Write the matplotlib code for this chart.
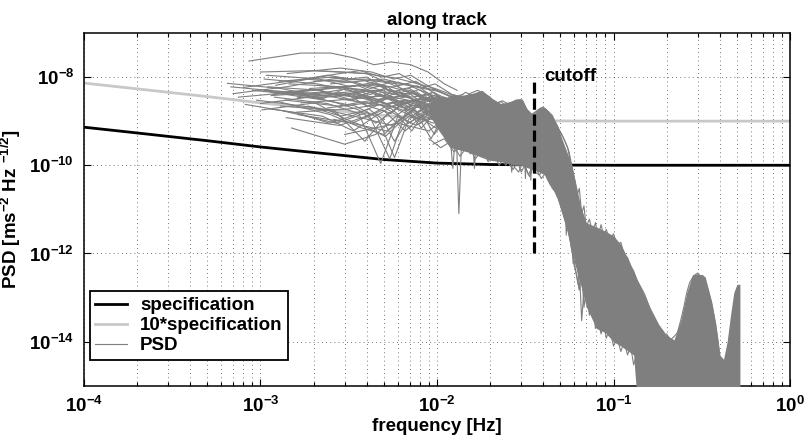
import matplotlib
matplotlib.use("Agg")
import matplotlib.pyplot as plt

plt.rcParams['font.family'] = ['Liberation Sans', 'DejaVu Sans']
plt.rcParams['font.weight'] = 'bold'
plt.rcParams['mathtext.fontset'] = 'custom'
plt.rcParams['mathtext.rm'] = 'Liberation Sans:bold'
plt.rcParams['mathtext.bf'] = 'Liberation Sans:bold'
plt.rcParams['mathtext.it'] = 'Liberation Sans:bold'

# specification curve
spec_f = [1e-4, 2e-4, 5e-4, 1e-3, 2e-3, 5e-3, 1e-2, 2e-2, 5e-2, 1e-1, 1.0]
spec_v = [7.3e-10, 5.4e-10, 3.6e-10, 2.6e-10, 1.95e-10, 1.35e-10, 1.12e-10,
          1.04e-10, 1.01e-10, 1.0e-10, 1.0e-10]
ten_spec_v = [10 * v for v in spec_v]

# single PSD curves, frequency in mHz, value in 1e-9 ms^-2 Hz^-1/2
psd_f_mhz = [
    [0.86, 1.7, 2.5, 3.4, 4.4, 5.5, 7.1, 8.9, 11, 13],
    [0.65, 1.3, 1.95, 2.6, 3.25, 3.9, 5.2, 6.5, 8.5, 11],
    [1.0, 2.0, 3.0, 4.0, 5.0, 6.0, 7.5, 9, 11, 13],
    [1.05, 2.1, 3.15, 4.2, 5.25, 6.3, 8.4, 10.5, 12.6],
    [1.1, 2.2, 3.3, 4.4, 5.5, 6.6, 7.7, 8.8, 11, 13],
    [1.15, 2.3, 3.45, 4.6, 5.75, 6.9, 8.05, 9.2, 11.5],
    [1.2, 2.4, 3.6, 4.8, 6.0, 7.2, 8.4, 9.6, 12],
    [1.25, 2.5, 3.75, 5.0, 6.25, 7.5, 8.75, 10, 12.5],
    [1.3, 2.6, 3.9, 5.2, 6.5, 7.8, 9.1, 10.4, 13],
    [1.35, 2.7, 4.05, 5.4, 6.75, 8.1, 9.45, 10.8, 13.5],
    [1.4, 2.8, 4.2, 5.6, 7.0, 8.4, 9.8, 11.2, 14],
    [1.5, 3.0, 4.5, 6.0, 7.5, 9, 10.5, 12, 13.5],
    [1.6, 3.2, 4.8, 6.4, 8, 9.6, 11.2, 12.8],
    [1.7, 3.4, 5.1, 6.8, 8.5, 10.2, 11.9, 13.6],
    [1.8, 3.6, 5.4, 7.2, 9, 10.8, 12.6],
    [1.9, 3.8, 5.7, 7.6, 9.5, 11.4, 13.3],
    [2.0, 4.0, 6.0, 8.0, 10, 12, 14],
    [2.2, 4.4, 6.6, 8.8, 11, 13.2],
    [2.4, 4.8, 7.2, 9.6, 12, 14.4],
    [2.6, 5.2, 7.8, 10.4, 13],
    [0.9, 1.8, 2.7, 3.6, 4.5, 5.4, 6.3, 7.2, 9, 11],
    [0.95, 1.9, 2.85, 3.8, 4.75, 5.7, 7.6, 9.5, 11.4],
    [1.12, 2.24, 3.36, 4.48, 5.6, 6.72, 8.96, 11.2],
    [1.45, 2.9, 4.35, 5.8, 7.25, 8.7, 10.15, 11.6],
    [0.7, 1.4, 2.1, 2.8, 3.5, 4.2, 4.9, 5.6, 7, 8.4, 9.8, 11.2, 12.6, 14],
    [0.75, 1.5, 2.25, 3.0, 3.75, 4.5, 5.25, 6.0, 7.5, 9, 10.5, 12, 13.5, 15],
    [0.8, 1.6, 2.4, 3.2, 4.0, 4.8, 5.6, 6.4, 8, 9.6, 11.2, 12.8, 14.4],
    [1.0, 2.0, 3.0, 4.0, 5.0, 6.0, 7.0, 8.0, 9.0, 10, 12, 14, 16],
    [1.08, 2.16, 3.24, 4.32, 5.4, 6.48, 7.56, 8.64, 9.72, 10.8, 13, 15],
    [1.18, 2.36, 3.54, 4.72, 5.9, 7.08, 8.26, 9.44, 10.6, 11.8, 14.2],
    [1.28, 2.56, 3.84, 5.12, 6.4, 7.68, 8.96, 10.24, 11.5, 12.8, 15.4],
    [1.38, 2.76, 4.14, 5.52, 6.9, 8.28, 9.66, 11, 12.4, 13.8],
    [1.55, 3.1, 4.65, 6.2, 7.75, 9.3, 10.85, 12.4, 14],
    [1.65, 3.3, 4.95, 6.6, 8.25, 9.9, 11.55, 13.2, 14.85],
    [1.75, 3.5, 5.25, 7.0, 8.75, 10.5, 12.25, 14],
    [1.85, 3.7, 5.55, 7.4, 9.25, 11.1, 12.95, 14.8],
    [2.1, 4.2, 6.3, 8.4, 10.5, 12.6, 14.7],
    [2.3, 4.6, 6.9, 9.2, 11.5, 13.8],
    [2.8, 5.6, 8.4, 11.2, 14],
    [3.0, 6.0, 9.0, 12, 15],
    [1.02, 2.04, 3.06, 4.08, 5.1, 6.12, 7.14, 8.16, 9.18, 10.2, 12.2, 14.3],
    [0.82, 1.64, 2.46, 3.28, 4.1, 4.92, 5.74, 6.56, 8.2, 9.84, 11.5, 13.1],
    [1.05, 2.1, 3.15, 4.2, 5.25, 6.3, 7.35, 8.4, 10.5, 12.6],
    [1.15, 2.3, 3.45, 4.6, 5.75, 6.9, 8.05, 9.2, 11.5, 13.8],
    [1.22, 2.44, 3.66, 4.88, 6.1, 7.32, 8.54, 9.76, 12.2],
    [1.32, 2.64, 3.96, 5.28, 6.6, 7.92, 9.24, 10.56, 13.2],
    [1.42, 2.84, 4.26, 5.68, 7.1, 8.52, 9.94, 11.36, 14.2],
    [1.62, 3.24, 4.86, 6.48, 8.1, 9.72, 11.34, 12.96],
    [1.95, 3.9, 5.85, 7.8, 9.75, 11.7, 13.65],
    [1.08, 2.16, 3.24, 4.32, 5.4, 6.48, 7.56, 8.64, 10.8, 13],
    [0.68, 1.36, 2.04, 2.72, 3.4, 4.08, 4.76, 5.44, 6.8, 8.16, 9.52, 11],
    [2.5, 5.0, 7.5, 10, 12.5, 15],
    # upper and lower edges of the bundle up to the cutoff
    [8, 9.5, 11, 12.5, 14, 15.5, 17, 18.5, 20, 21.5, 23, 24.5, 26, 27.5, 29, 30.5, 32,
     33.5, 35, 37, 39, 41, 43, 45, 47, 49, 51, 53, 55, 57, 59, 61, 63],
    [8.5, 10, 11.5, 13, 14.5, 16, 17.5, 19, 20.5, 22, 23.5, 25, 26.5, 28, 29.5, 31,
     32.5, 34, 36, 38, 40, 42, 44, 46, 48, 50, 52, 54, 56, 58, 60, 62],
    [9, 10.5, 12, 13.5, 15, 16.5, 18, 19.5, 21, 22.5, 24, 25.5, 27, 28.5, 30, 31.5, 33,
     34.5, 36, 38, 40, 42, 44, 46, 48, 50, 52, 54, 56, 58, 60, 62, 64],
    [9.5, 11, 12.5, 14, 15.5, 17, 18.5, 20, 21.5, 23, 24.5, 26, 27.5, 29, 30.5, 32,
     33.5, 35, 37, 39, 41, 43, 45, 47, 49, 51, 53, 55, 57, 59, 61, 63],
]
psd_v_e9 = [
    [23, 35, 35, 27, 19, 22, 19, 13, 7, 5],
    [7.2, 5.5, 4, 3.5, 3, 4, 2.5, 3, 2, 1.8],
    [13, 14, 13, 12, 8, 6, 4, 3, 3.5, 2.5],
    [9, 7, 5, 3.5, 4, 2, 2.5, 1.5, 2],
    [6, 5, 3, 2, 1.5, 3, 1.6, 2.2, 1.8, 1.4],
    [4.5, 3, 2.2, 1.2, 0.15, 1.1, 1.8, 1.2, 1.6],
    [3.5, 2.5, 1.5, 0.11, 1.3, 0.6, 1.5, 2, 1.2],
    [2.8, 1.4, 0.7, 0.5, 1.1, 1.8, 1.0, 1.4, 1.5],
    [2.2, 1.8, 0.35, 1.4, 2.5, 1.5, 2.6, 1.2, 2],
    [1.7, 0.9, 1.6, 0.14, 1.9, 0.9, 2.1, 2.5, 1.6],
    [1.2, 0.8, 1.4, 2.6, 1.8, 1.1, 0.7, 1.4, 1.8],
    [0.7, 0.3, 0.5, 1.4, 2.8, 3.5, 1.5, 2.0, 1.4],
    [1.6, 1.9, 2.4, 2.8, 2.0, 1.1, 3, 2.3],
    [2.6, 3.2, 3.8, 3.0, 2.5, 1.4, 1.0, 2.5],
    [3.8, 4.8, 5.2, 3.5, 4.0, 2.6, 2.0],
    [5.5, 6.5, 6.0, 8.0, 4.5, 3.2, 3.0],
    [8, 9, 7.5, 6, 5, 3.5, 4],
    [4.5, 3, 1.7, 2.5, 1.3, 1.7],
    [2.0, 2.8, 1.3, 0.9, 2.2, 1.5],
    [1.1, 0.6, 2.2, 1.2, 1.8],
    [5, 3.8, 2.6, 1.8, 0.9, 1.5, 2.3, 1.2, 1.8, 2.1],
    [3, 2.1, 1.3, 1.7, 2.4, 1.5, 0.8, 1.3, 1.9],
    [1.9, 1.3, 0.6, 1.3, 2.2, 3.0, 2.0, 1.5],
    [7, 6, 4.5, 3, 2.3, 1.8, 1.3, 2.2],
    [4.2, 6, 8, 9.5, 7, 5.5, 6.5, 4, 5, 3, 4, 2.6, 3.2, 2.5],
    [3.5, 4.5, 3.2, 5.5, 4.0, 2.8, 3.5, 2.2, 3, 1.7, 2.6, 1.9, 3.5, 2.2],
    [5.8, 8.5, 11, 9, 10, 6.5, 8, 5, 3.8, 4.5, 2.8, 3.6, 2.8],
    [2.5, 3.6, 4.4, 2.2, 3, 5, 3.4, 2.3, 1.4, 2.4, 3, 1.9, 2.7],
    [11, 9, 6, 7.5, 5, 4.2, 2.8, 3.6, 2.5, 1.8, 2.4, 1.6],
    [4, 5.5, 6.5, 4, 2.8, 1.9, 2.6, 1.2, 0.8, 1.6, 2.3],
    [8, 10, 8.5, 5.5, 3.5, 4.6, 3, 2, 2.6, 1.6, 2.2],
    [3, 2.2, 2.9, 1.9, 0.9, 1.4, 0.5, 1.1, 1.7, 1.3],
    [4.5, 6, 7, 5.2, 6.3, 3.8, 2.5, 3.2, 2],
    [1.4, 0.9, 1.8, 0.6, 1.3, 2.1, 1.4, 0.9, 1.6],
    [9, 7.5, 4.5, 5.5, 3, 2.2, 3.6, 2.4],
    [2.2, 1.2, 0.8, 1.9, 0.4, 1.5, 2.3, 1.8],
    [6.5, 5, 3.8, 2.6, 3.4, 2.1, 2.8],
    [10, 8, 6.5, 4, 3, 2.5],
    [3.2, 2.1, 3.5, 2.4, 1.7],
    [0.5, 0.9, 0.6, 1.5, 1.1],
    [1.8, 2.6, 1.1, 0.7, 0.45, 0.9, 1.4, 0.7, 1.2, 1.8, 1.3, 2],
    [2.4, 1.5, 0.9, 1.3, 1.9, 1.1, 0.35, 0.8, 1.4, 1.0, 1.5, 1.2],
    [5, 4.2, 5.5, 4, 6, 3.6, 4.8, 3, 3.5, 2.4],
    [3.8, 4.6, 3.6, 5, 3.4, 4.4, 2.8, 3.6, 2.2, 3],
    [6.5, 11, 14, 10, 12, 8, 6, 7, 4],
    [4.4, 3.6, 4.8, 3.2, 4.2, 5.2, 3.5, 2.4, 3.2],
    [12, 16, 13, 9, 11, 7, 5, 4, 3],
    [3.4, 4.2, 3, 3.8, 2.7, 3.4, 2.2, 2.8],
    [14, 12, 9.5, 7, 5.5, 4.2, 3.4],
    [4.8, 3.4, 4, 2.9, 3.6, 2.5, 3.2, 2.2, 2.6, 2],
    [6, 4.6, 5.2, 3.8, 4.4, 3.2, 4.2, 3, 3.6, 2.6, 2.2, 2.8],
    [7, 9, 6, 4.8, 3.4, 3.8],
    [3.5, 4.5, 3.0, 4.0, 3.2, 4.3, 5.0, 4.2, 3.5, 2.4, 2.8, 2.2, 2.6, 1.6, 2.8, 3.0, 2.0,
     1.3, 1.5, 1.7, 2.0, 1.9, 1.6, 1.1, 0.9, 0.65, 0.5, 0.35, 0.25, 0.12, 0.06, 0.03, 0.015],
    [2.8, 3.6, 2.6, 3.3, 4.5, 3.8, 4.6, 3.2, 2.9, 2.6, 2.9, 2.5, 2.1, 2.4, 3.1, 2.4,
     1.5, 1.2, 1.6, 1.9, 2.1, 1.7, 1.4, 1.0, 0.8, 0.55, 0.42, 0.3, 0.2, 0.1, 0.05, 0.025],
    [0.4, 0.25, 0.35, 0.16, 0.28, 0.14, 0.22, 0.12, 0.18, 0.10, 0.15, 0.11, 0.08, 0.12,
     0.07, 0.10, 0.06, 0.09, 0.07, 0.06, 0.08, 0.05, 0.035, 0.04, 0.02, 0.015, 0.009,
     0.005, 0.003, 0.0012, 0.0006, 0.0003, 0.00015],
    [0.3, 0.4, 0.2, 0.3, 0.18, 0.26, 0.15, 0.2, 0.13, 0.17, 0.10, 0.14, 0.09, 0.07,
     0.11, 0.08, 0.055, 0.09, 0.075, 0.05, 0.065, 0.045, 0.03, 0.025, 0.016, 0.01,
     0.006, 0.0035, 0.0018, 0.0008, 0.0004, 0.0002],
]

# high-frequency roughness of the bundle (Hz, ms^-2 Hz^-1/2)
hf_f = [
    [0.058, 0.060, 0.062, 0.064, 0.066, 0.068, 0.070, 0.073, 0.076, 0.079, 0.082, 0.085,
     0.088, 0.091, 0.095, 0.10, 0.105, 0.11, 0.115, 0.12, 0.125, 0.13, 0.135, 0.14],
    [0.060, 0.062, 0.064, 0.066, 0.068, 0.070, 0.073, 0.076, 0.079, 0.082, 0.085, 0.088,
     0.091, 0.095, 0.10, 0.105, 0.11, 0.115, 0.12, 0.125, 0.13, 0.135, 0.14, 0.15, 0.16],
    [0.20, 0.21, 0.22, 0.23, 0.24, 0.25, 0.26, 0.27, 0.28, 0.29, 0.30, 0.31, 0.32, 0.33,
     0.34, 0.35, 0.36, 0.37, 0.38, 0.39, 0.40],
]
hf_v = [
    [2e-12, 5e-13, 1e-12, 1.5e-13, 4e-13, 6e-14, 1.5e-13, 4e-14, 8e-14, 2e-14, 3e-14, 1.5e-14,
     2.5e-14, 1.2e-14, 2e-14, 8e-15, 1.2e-14, 6e-15, 1e-14, 5e-15, 8e-15, 3e-15, 5e-15, 1e-15],
    [5e-11, 2e-11, 3e-11, 8e-12, 1.2e-11, 4e-12, 6e-12, 3e-12, 5e-12, 2.5e-12, 4.5e-12,
     2.5e-12, 3.5e-12, 2e-12, 2.8e-12, 1.5e-12, 1.8e-12, 9e-13, 8e-13, 5e-13, 4e-13,
     2.5e-13, 2e-13, 1.2e-13, 6e-14],
    [1.5e-14, 1.1e-14, 1.3e-14, 1.6e-14, 3e-14, 6e-14, 1.3e-13, 2.2e-13, 2.8e-13, 3.3e-13,
     3.6e-13, 3.0e-13, 3.2e-13, 2.4e-13, 1.7e-13, 1.1e-13, 7e-14, 4e-14, 2.2e-14, 1.1e-14,
     5e-15],
]

# dense part of the PSD bundle: upper / lower envelope
band_f = [0.009, 0.010, 0.012, 0.015, 0.018, 0.020, 0.023, 0.026, 0.028, 0.030,
          0.032, 0.035, 0.038, 0.041, 0.045, 0.048, 0.051, 0.055, 0.058, 0.061,
          0.065, 0.070, 0.080, 0.090, 0.10, 0.11, 0.12, 0.13, 0.14, 0.16,
          0.18, 0.20, 0.22, 0.24, 0.26, 0.28, 0.30, 0.33, 0.36, 0.38,
          0.40, 0.42, 0.44, 0.46, 0.48, 0.50, 0.52]
band_hi = [2.5e-9, 3.5e-9, 3.5e-9, 4.0e-9, 5.0e-9, 3.5e-9, 2.5e-9, 2.8e-9, 3.2e-9, 3.2e-9,
           2.0e-9, 1.4e-9, 2.0e-9, 2.0e-9, 1.4e-9, 8e-10, 4e-10, 1.8e-10, 1e-10, 4e-11,
           1.2e-11, 5e-12, 4e-12, 3.2e-12, 2.5e-12, 1.6e-12, 8e-13, 4e-13, 2e-13, 6.3e-14,
           2.5e-14, 1.4e-14, 1.1e-14, 3e-14, 1.3e-13, 3.3e-13, 3.5e-13, 3e-13, 8e-14, 2.5e-14,
           5e-15, 4e-15, 1e-14, 4e-14, 1.3e-13, 2e-13, 2e-13]
band_lo = [1.5e-9, 7e-10, 2.5e-10, 2e-10, 1.5e-10, 1.3e-10, 1.2e-10, 1.1e-10, 1e-10, 1e-10,
           9e-11, 8e-11, 7e-11, 6e-11, 3e-11, 1.8e-11, 8e-12, 3e-12, 1.2e-12, 5e-13,
           2e-13, 6.3e-14, 2e-14, 1.6e-14, 1e-14, 8e-15, 6.3e-15, 5e-15, 1e-16, 1e-16,
           1e-16, 1e-16, 1e-16, 1e-16, 1e-16, 1e-16, 1e-16, 1e-16, 1e-16, 1e-16,
           1e-16, 1e-16, 1e-16, 1e-16, 1e-16, 1e-16, 1e-16]

# deep dips in single PSD curves
spike_f = [
    [0.0118, 0.0123, 0.0128], [0.0128, 0.0133, 0.0139], [0.0157, 0.0163, 0.0169],
    [0.0255, 0.0265, 0.0275], [0.031, 0.0317, 0.0325], [0.0334, 0.034, 0.0347],
    [0.041, 0.042, 0.043], [0.052, 0.054, 0.0555], [0.057, 0.059, 0.0605],
    [0.064, 0.066, 0.068],
]
spike_v = [
    [6e-10, 8.5e-11, 7e-10], [1e-9, 8e-12, 9e-10], [8e-10, 8.5e-11, 9e-10],
    [6e-10, 7e-11, 8e-10], [5e-10, 5e-11, 6e-10], [5e-10, 4.6e-11, 5e-10],
    [5e-10, 7.7e-11, 4e-10], [1.5e-10, 2.6e-12, 8e-11], [3e-11, 6e-13, 1e-11],
    [5e-13, 3e-14, 1.5e-13],
]

cutoff_f = 0.0355
cutoff_span = [1e-12, 1e-8]

x_ticks = [1e-4, 1e-3, 1e-2, 1e-1, 1e0]
x_labels = [r'$\mathbf{10^{-4}}$', r'$\mathbf{10^{-3}}$', r'$\mathbf{10^{-2}}$',
            r'$\mathbf{10^{-1}}$', r'$\mathbf{10^{0}}$']
y_ticks = [1e-14, 1e-12, 1e-10, 1e-8]
y_labels = [r'$\mathbf{10^{-14}}$', r'$\mathbf{10^{-12}}$', r'$\mathbf{10^{-10}}$',
            r'$\mathbf{10^{-8}}$']

psd_color = '#7f7f7f'
fs = 13.5

fig = plt.figure(figsize=(8.07, 4.45), dpi=100)
ax = fig.add_axes([0.104, 0.133, 0.875, 0.793])

ax.plot(spec_f, spec_v, color='black', lw=2.0, label='specification', zorder=2)
ax.plot(spec_f, ten_spec_v, color='#c8c8c8', lw=2.0, label='10*specification', zorder=2)

ax.fill_between(band_f, band_lo, band_hi, color=psd_color, lw=0, zorder=3)
for i in range(len(psd_f_mhz)):
    f = [x * 1e-3 for x in psd_f_mhz[i]]
    v = [x * 1e-9 for x in psd_v_e9[i]]
    ax.plot(f, v, color=psd_color, lw=0.8, zorder=3, label='PSD' if i == 0 else None)
for i in range(len(hf_f)):
    ax.plot(hf_f[i], hf_v[i], color=psd_color, lw=0.8, zorder=3)
for i in range(len(spike_f)):
    ax.plot(spike_f[i], spike_v[i], color=psd_color, lw=0.8, zorder=3)

ax.plot([cutoff_f, cutoff_f], cutoff_span, color='black', lw=2.3,
        linestyle=(0, (3.5, 1.5)), zorder=4)
ax.text(cutoff_f * 1.14, 1.02e-8, 'cutoff', fontsize=fs, fontweight='bold',
        ha='left', va='center', zorder=5)

ax.set_xscale('log')
ax.set_yscale('log')
ax.set_xlim(1e-4, 1)
ax.set_ylim(1e-15, 1e-7)

ax.set_xticks(x_ticks)
ax.set_xticklabels(x_labels, fontsize=fs)
ax.set_yticks(y_ticks)
ax.set_yticklabels(y_labels, fontsize=fs)
ax.yaxis.set_minor_locator(matplotlib.ticker.NullLocator())
ax.xaxis.set_minor_locator(matplotlib.ticker.LogLocator(base=10, subs=range(2, 10)))
ax.xaxis.set_minor_formatter(matplotlib.ticker.NullFormatter())

ax.tick_params(which='both', direction='in', top=True, right=True, width=0.8)
ax.tick_params(which='major', length=5, pad=7)
ax.tick_params(which='minor', length=3)
ax.grid(True, which='both', axis='x', color='black', lw=0.6,
        linestyle=(0, (1, 4)), alpha=0.7)
ax.grid(True, which='major', axis='y', color='black', lw=0.6,
        linestyle=(0, (1, 4)), alpha=0.7)
ax.set_axisbelow(True)
for s in ax.spines.values():
    s.set_linewidth(1.1)

ax.set_title('along track', fontsize=fs, fontweight='bold', pad=6)
ax.set_xlabel('frequency [Hz]', fontsize=fs, fontweight='bold', labelpad=2)
ax.set_ylabel(r'PSD [ms$^{-2}$ Hz $^{-1/2}$]', fontsize=fs, fontweight='bold', labelpad=4)

leg = ax.legend(loc='lower left', bbox_to_anchor=(0.008, 0.074), borderaxespad=0,
                fancybox=False, framealpha=1, edgecolor='black', fontsize=fs,
                handlelength=1.7, handletextpad=0.7, labelspacing=0.15, borderpad=0.3)
leg.get_frame().set_linewidth(1.3)
leg.set_zorder(6)

fig.savefig('out.png', dpi=100)
